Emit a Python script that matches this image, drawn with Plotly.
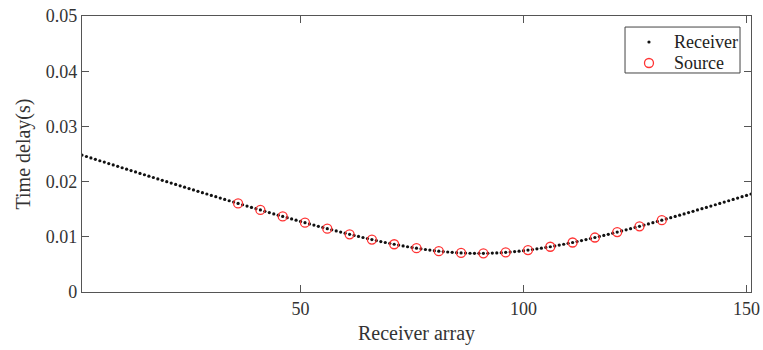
import plotly.graph_objects as go

receiver_x = list(range(1, 152))
receiver_delay = [
    0.02481, 0.02455, 0.02429, 0.02404, 0.02378, 0.02353, 0.02327, 0.02302, 0.02276, 0.02251,
    0.02225, 0.02200, 0.02175, 0.02149, 0.02124, 0.02099, 0.02074, 0.02049, 0.02023, 0.01998,
    0.01973, 0.01948, 0.01923, 0.01899, 0.01874, 0.01849, 0.01824, 0.01800, 0.01775, 0.01750,
    0.01726, 0.01702, 0.01677, 0.01653, 0.01629, 0.01605, 0.01581, 0.01557, 0.01533, 0.01509,
    0.01486, 0.01462, 0.01439, 0.01415, 0.01392, 0.01369, 0.01346, 0.01323, 0.01301, 0.01278,
    0.01256, 0.01234, 0.01212, 0.01190, 0.01169, 0.01147, 0.01126, 0.01106, 0.01085, 0.01065,
    0.01045, 0.01025, 0.01006, 0.00987, 0.00968, 0.00950, 0.00932, 0.00914, 0.00897, 0.00881,
    0.00865, 0.00850, 0.00835, 0.00820, 0.00807, 0.00794, 0.00782, 0.00770, 0.00759, 0.00749,
    0.00740, 0.00732, 0.00725, 0.00718, 0.00713, 0.00708, 0.00705, 0.00702, 0.00701, 0.00700,
    0.00701, 0.00702, 0.00705, 0.00708, 0.00713, 0.00718, 0.00725, 0.00732, 0.00740, 0.00749,
    0.00759, 0.00770, 0.00782, 0.00794, 0.00807, 0.00820, 0.00835, 0.00850, 0.00865, 0.00881,
    0.00897, 0.00914, 0.00932, 0.00950, 0.00968, 0.00987, 0.01006, 0.01025, 0.01045, 0.01065,
    0.01085, 0.01106, 0.01126, 0.01147, 0.01169, 0.01190, 0.01212, 0.01234, 0.01256, 0.01278,
    0.01301, 0.01323, 0.01346, 0.01369, 0.01392, 0.01415, 0.01439, 0.01462, 0.01486, 0.01509,
    0.01533, 0.01557, 0.01581, 0.01605, 0.01629, 0.01653, 0.01677, 0.01702, 0.01726, 0.01750,
    0.01775,
]

source_x = [36, 41, 46, 51, 56, 61, 66, 71, 76, 81, 86, 91, 96, 101, 106, 111, 116, 121, 126, 131]
source_delay = [0.01605, 0.01486, 0.01369, 0.01256, 0.01147, 0.01045, 0.00950, 0.00865, 0.00794, 0.00740,
                0.00708, 0.00701, 0.00718, 0.00759, 0.00820, 0.00897, 0.00987, 0.01085, 0.01190, 0.01301]

series_names = ["Receiver", "Source"]

x_ticks = [50, 100, 150]
y_ticks = [0, 0.01, 0.02, 0.03, 0.04, 0.05]
y_tick_text = ["0", "0.01", "0.02", "0.03", "0.04", "0.05"]

FONT = "Liberation Serif"
TXT = "#333333"
AX = "#555555"
RED = "#ff3333"

recv_marker = dict(symbol="circle", size=3.2, color="#111111", line=dict(width=0))
src_marker = dict(symbol="circle-open", size=9, color=RED, line=dict(width=1.3))

fig = go.Figure()
fig.add_trace(go.Scatter(x=receiver_x, y=receiver_delay, mode="markers",
                         name=series_names[0], marker=recv_marker, showlegend=False))
fig.add_trace(go.Scatter(x=source_x, y=source_delay, mode="markers",
                         name=series_names[1], marker=src_marker, showlegend=False))

# legend box (drawn manually to match the compact original legend)
leg_x0, leg_x1 = 0.8117, 0.9836
leg_y0, leg_y1 = 0.7935, 0.960
leg_rows = [0.9058, 0.8297]
leg_mark_x = 0.8475
leg_text_x = 0.8815

fig.add_trace(go.Scatter(x=[leg_mark_x], y=[leg_rows[0]], mode="markers", marker=recv_marker,
                         xaxis="x2", yaxis="y2", showlegend=False, hoverinfo="skip"))
fig.add_trace(go.Scatter(x=[leg_mark_x], y=[leg_rows[1]], mode="markers", marker=src_marker,
                         xaxis="x2", yaxis="y2", showlegend=False, hoverinfo="skip"))

fig.add_shape(type="rect", xref="paper", yref="paper", x0=leg_x0, x1=leg_x1, y0=leg_y0, y1=leg_y1,
              line=dict(color="#444444", width=1), fillcolor="rgba(0,0,0,0)", layer="below")
for name, yy in zip(series_names, leg_rows):
    fig.add_annotation(x=leg_text_x, y=yy, xref="paper", yref="paper", text=name,
                       showarrow=False, xanchor="left", yanchor="middle",
                       font=dict(family=FONT, size=18, color="#222222"))

axis_common = dict(
    showline=True, linecolor=AX, linewidth=1.2, mirror="ticks",
    ticks="inside", ticklen=7, tickcolor=AX, tickwidth=1,
    showgrid=False, zeroline=False, automargin=False,
    tickfont=dict(family=FONT, size=18, color=TXT),
)

fig.update_layout(
    width=763, height=350,
    margin=dict(l=82, r=12, t=16, b=58),
    paper_bgcolor="white", plot_bgcolor="white",
    font=dict(family=FONT, color=TXT),
    showlegend=False,
    xaxis=dict(
        range=[1, 151], tickvals=x_ticks,
        title=dict(text="Receiver array", font=dict(family=FONT, size=20, color=TXT), standoff=8),
        **axis_common,
    ),
    yaxis=dict(
        range=[0, 0.05], tickvals=y_ticks, ticktext=y_tick_text,
        title=dict(text="Time delay(s)", font=dict(family=FONT, size=20, color=TXT), standoff=9),
        **axis_common,
    ),
    xaxis2=dict(overlaying="x", anchor="y", range=[0, 1], visible=False, fixedrange=True),
    yaxis2=dict(overlaying="y", anchor="x", range=[0, 1], visible=False, fixedrange=True),
)

fig.write_html("out.html")
